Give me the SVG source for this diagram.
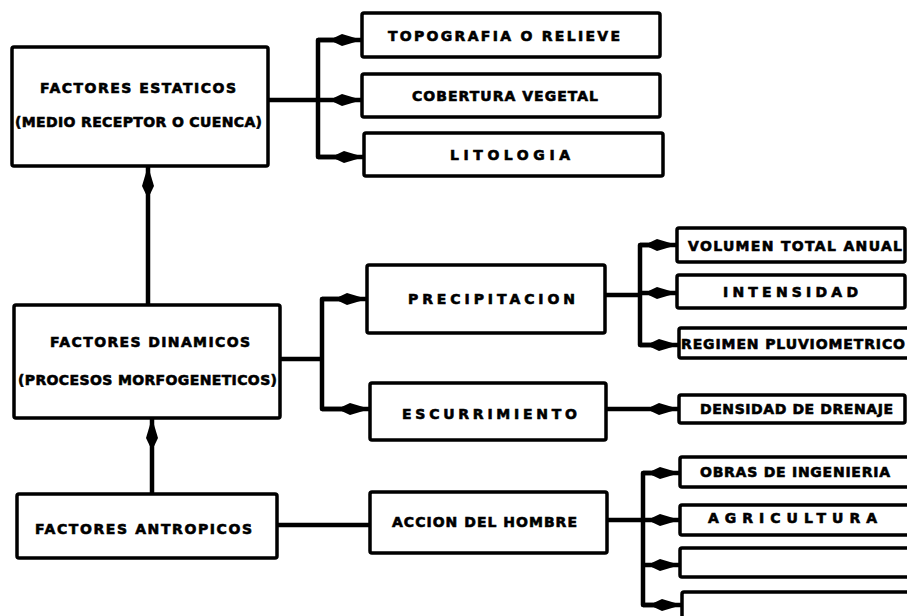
<svg xmlns="http://www.w3.org/2000/svg" width="907" height="616" viewBox="0 0 907 616">
<style>
.box{fill:#fff;stroke:#000;stroke-width:3.5;stroke-linejoin:round}
.lbl{font-family:"DejaVu Sans","Liberation Sans",sans-serif;font-weight:bold;font-size:14px;fill:#000;stroke:#000;stroke-width:0.6}
.ln{fill:none;stroke:#000;stroke-width:4.5;stroke-linejoin:round;stroke-linecap:butt}
</style>
<defs>
<marker id="ah" viewBox="-29 -7 30 14" refX="0" refY="0" markerWidth="30" markerHeight="14" markerUnits="userSpaceOnUse" orient="auto">
<path d="M0,0 L-20,-6 L-28,-2.2 L-28,2.2 L-20,6 Z" fill="#000"/>
</marker>
</defs>
<rect width="907" height="616" fill="#fff"/>
<g id="connectors">
<path class="ln" d="M268,100 H318"/>
<path class="ln" d="M340,40 H318 V157 H340"/>
<path class="ln" d="M318,40 H362" marker-end="url(#ah)"/>
<path class="ln" d="M318,100 H362" marker-end="url(#ah)"/>
<path class="ln" d="M318,157 H364" marker-end="url(#ah)"/>
<path class="ln" d="M148,305 V166" marker-end="url(#ah)"/>
<path class="ln" d="M280,359 H322"/>
<path class="ln" d="M345,299 H322 V409 H345"/>
<path class="ln" d="M322,299 H367" marker-end="url(#ah)"/>
<path class="ln" d="M322,409 H370" marker-end="url(#ah)"/>
<path class="ln" d="M605,295 H640"/>
<path class="ln" d="M660,245 H640 V345 H660"/>
<path class="ln" d="M640,245 H677" marker-end="url(#ah)"/>
<path class="ln" d="M640,293 H677" marker-end="url(#ah)"/>
<path class="ln" d="M640,345 H679" marker-end="url(#ah)"/>
<path class="ln" d="M606,409 H679" marker-end="url(#ah)"/>
<path class="ln" d="M152,494 V418" marker-end="url(#ah)"/>
<path class="ln" d="M277,525 H370"/>
<path class="ln" d="M607,520 H643"/>
<path class="ln" d="M663,473 H643 V605 H663"/>
<path class="ln" d="M643,473 H680" marker-end="url(#ah)"/>
<path class="ln" d="M643,520 H680" marker-end="url(#ah)"/>
<path class="ln" d="M643,565 H680" marker-end="url(#ah)"/>
<path class="ln" d="M643,605 H682" marker-end="url(#ah)"/>
</g>
<g id="estaticos"><rect class="box" x="12" y="47" width="256" height="119" rx="2"/>
<text class="lbl" x="40" y="93" textLength="196" lengthAdjust="spacing">FACTORES ESTATICOS</text>
<text class="lbl" x="15" y="127" textLength="247" lengthAdjust="spacing">(MEDIO RECEPTOR O CUENCA)</text></g>
<g id="topografia"><rect class="box" x="362" y="13" width="298" height="44" rx="2"/>
<text class="lbl" x="388" y="41" textLength="232" lengthAdjust="spacing">TOPOGRAFIA O RELIEVE</text></g>
<g id="cobertura"><rect class="box" x="362" y="74" width="298" height="43" rx="2"/>
<text class="lbl" x="412" y="101" textLength="186" lengthAdjust="spacing">COBERTURA VEGETAL</text></g>
<g id="litologia"><rect class="box" x="364" y="133" width="299" height="43" rx="2"/>
<text class="lbl" x="450" y="160" textLength="120" lengthAdjust="spacing">LITOLOGIA</text></g>
<g id="dinamicos"><rect class="box" x="14" y="305" width="266" height="113" rx="2"/>
<text class="lbl" x="50" y="347" textLength="200" lengthAdjust="spacing">FACTORES DINAMICOS</text>
<text class="lbl" x="18" y="385" textLength="259" lengthAdjust="spacing">(PROCESOS MORFOGENETICOS)</text></g>
<g id="precipitacion"><rect class="box" x="367" y="265" width="238" height="68" rx="2"/>
<text class="lbl" x="408" y="304" textLength="167" lengthAdjust="spacing">PRECIPITACION</text></g>
<g id="escurrimiento"><rect class="box" x="370" y="383" width="236" height="57" rx="2"/>
<text class="lbl" x="402" y="419" textLength="175" lengthAdjust="spacing">ESCURRIMIENTO</text></g>
<g id="volumen"><rect class="box" x="677" y="228" width="228" height="34" rx="2"/>
<text class="lbl" x="688" y="251" textLength="214" lengthAdjust="spacing">VOLUMEN TOTAL ANUAL</text></g>
<g id="intensidad"><rect class="box" x="677" y="275" width="228" height="33" rx="2"/>
<text class="lbl" x="723" y="297" textLength="135" lengthAdjust="spacing">INTENSIDAD</text></g>
<g id="regimen"><rect class="box" x="679" y="328" width="232" height="30" rx="2"/>
<text class="lbl" x="681" y="349" textLength="224" lengthAdjust="spacing">REGIMEN PLUVIOMETRICO</text></g>
<g id="densidad"><rect class="box" x="679" y="395" width="226" height="28" rx="2"/>
<text class="lbl" x="700" y="414" textLength="193" lengthAdjust="spacing">DENSIDAD DE DRENAJE</text></g>
<g id="antropicos"><rect class="box" x="17" y="494" width="260" height="64" rx="2"/>
<text class="lbl" x="35" y="534" textLength="217" lengthAdjust="spacing">FACTORES ANTROPICOS</text></g>
<g id="accion"><rect class="box" x="370" y="492" width="237" height="61" rx="2"/>
<text class="lbl" x="392" y="527" textLength="185" lengthAdjust="spacing">ACCION DEL HOMBRE</text></g>
<g id="obras"><rect class="box" x="680" y="457" width="235" height="30" rx="2"/>
<text class="lbl" x="700" y="477" textLength="190" lengthAdjust="spacing">OBRAS DE INGENIERIA</text></g>
<g id="agricultura"><rect class="box" x="680" y="505" width="235" height="30" rx="2"/>
<text class="lbl" x="708" y="523" textLength="169" lengthAdjust="spacing">AGRICULTURA</text></g>
<g id="blank1"><rect class="box" x="680" y="548" width="235" height="29" rx="2"/></g>
<g id="blank2"><rect class="box" x="682" y="592" width="235" height="32" rx="2"/></g>
</svg>
